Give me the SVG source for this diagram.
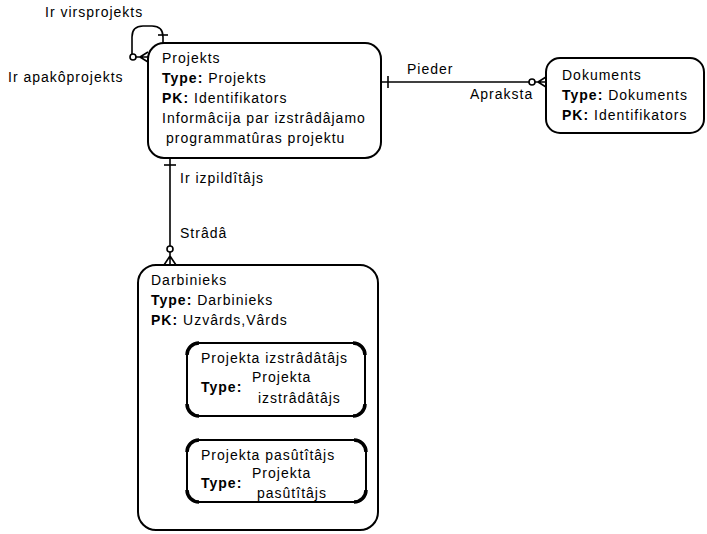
<svg xmlns="http://www.w3.org/2000/svg" width="707" height="534" viewBox="0 0 707 534">
<style>
text{font-family:"Liberation Sans",Arial,sans-serif;font-size:14px;fill:#000;letter-spacing:1px}
.b{font-weight:bold}
.box{fill:#fff;stroke:#000;stroke-width:2}
.ln{fill:none;stroke:#000;stroke-width:1.6}
.cn{fill:none;stroke:#000;stroke-width:3.5;stroke-linecap:butt}
.circ{fill:#fff;stroke:#000;stroke-width:1.6}
</style>
<rect width="707" height="534" fill="#fff"/>
<g id="connectors">
  <path class="ln" d="M163 43 L163 37 Q163 26 152 26 L143 26 Q132 26 132 37 L132 54"/>
  <line class="ln" x1="158" y1="35" x2="168" y2="35"/>
  <circle class="circ" cx="133" cy="57" r="3"/>
  <path class="ln" d="M136 57 L148 57 M140 57 L148 52 M140 57 L148 62"/>
  <line class="ln" x1="381" y1="82" x2="529" y2="82"/>
  <line class="ln" x1="388" y1="76" x2="388" y2="88"/>
  <circle class="circ" cx="532" cy="82" r="3"/>
  <path class="ln" d="M535 82 L546 82 M538 82 L546 77 M538 82 L546 87"/>
  <line class="ln" x1="170" y1="158" x2="170" y2="246"/>
  <line class="ln" x1="164" y1="165" x2="176" y2="165"/>
  <circle class="circ" cx="170" cy="249" r="3"/>
  <path class="ln" d="M170 252 L170 265 M170 256 L164 265 M170 256 L176 265"/>
  <text x="45" y="17">Ir virsprojekts</text>
  <text x="8" y="82">Ir apakôprojekts</text>
  <text x="407" y="74">Pieder</text>
  <text x="470" y="99">Apraksta</text>
  <text x="180" y="183">Ir izpildîtâjs</text>
  <text x="180" y="238">Strâdâ</text>
</g>
<g id="projekts">
  <rect class="box" x="148" y="43" width="233" height="115" rx="16"/>
  <text x="162" y="63">Projekts</text>
  <text x="162" y="83"><tspan class="b">Type:</tspan> Projekts</text>
  <text x="162" y="103"><tspan class="b">PK:</tspan> Identifikators</text>
  <text x="162" y="123" letter-spacing="1.3">Informâcija par izstrâdâjamo</text>
  <text x="166" y="143">programmatûras projektu</text>
</g>
<g id="dokuments">
  <rect class="box" x="546" y="58" width="158" height="75" rx="14"/>
  <text x="562" y="80">Dokuments</text>
  <text x="562" y="100"><tspan class="b">Type:</tspan> Dokuments</text>
  <text x="562" y="120"><tspan class="b">PK:</tspan> Identifikators</text>
</g>
<g id="darbinieks">
  <rect class="box" x="138" y="265" width="240" height="265" rx="18"/>
  <text x="151" y="285">Darbinieks</text>
  <text x="151" y="305"><tspan class="b">Type:</tspan> Darbinieks</text>
  <text x="151" y="325"><tspan class="b">PK:</tspan> Uzvârds,Vârds</text>
</g>
<g id="projekta-izstradatajs">
  <rect class="box" x="187" y="343" width="178" height="73" rx="12"/>
  <path class="cn" d="M187 355 A12 12 0 0 1 199 343 M353 343 A12 12 0 0 1 365 355 M365 404 A12 12 0 0 1 353 416 M199 416 A12 12 0 0 1 187 404"/>
  <text x="201" y="363">Projekta izstrâdâtâjs</text>
  <text x="201" y="392" class="b">Type:</text>
  <text x="252" y="382">Projekta</text>
  <text x="258" y="403">izstrâdâtâjs</text>
</g>
<g id="projekta-pasutitajs">
  <rect class="box" x="187" y="440" width="179" height="62" rx="12"/>
  <path class="cn" d="M187 452 A12 12 0 0 1 199 440 M354 440 A12 12 0 0 1 366 452 M366 490 A12 12 0 0 1 354 502 M199 502 A12 12 0 0 1 187 490"/>
  <text x="201" y="460">Projekta pasûtîtâjs</text>
  <text x="201" y="488" class="b">Type:</text>
  <text x="252" y="478">Projekta</text>
  <text x="257" y="498">pasûtîtâjs</text>
</g>
</svg>
